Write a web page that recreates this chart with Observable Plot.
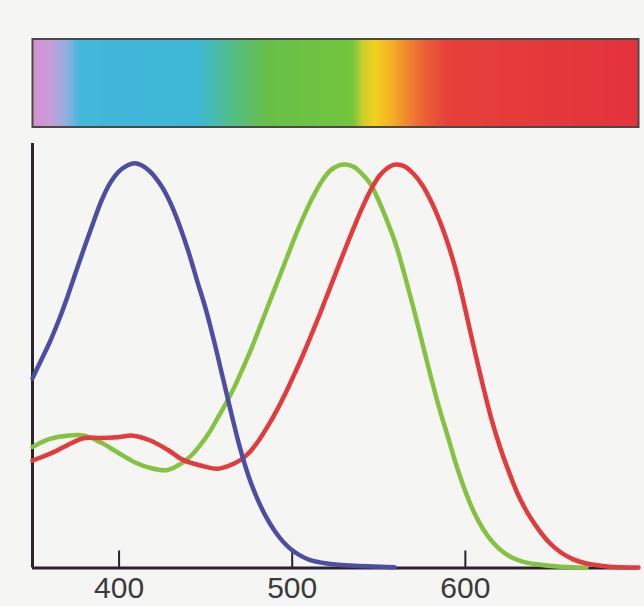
<!DOCTYPE html>
<html>
<head>
<meta charset="utf-8">
<script src="https://cdn.jsdelivr.net/npm/d3@7"></script>
<script src="https://cdn.jsdelivr.net/npm/@observablehq/plot@0.6"></script>
<style>
html, body { margin: 0; padding: 0; background: #f5f5f3; }
#chart { width: 644px; height: 606px; overflow: hidden; background: #f5f5f3; }
#chart svg { display: block; }
</style>
</head>
<body>
<div id="chart"></div>
<script>
// x axis
const xDomain = [350, 700];
const xTicks = [400, 500, 600];

// visible spectrum strip: wavelength stops and colours
const specNm = [350, 360, 370, 378, 445, 465, 485, 535, 541, 548, 557, 566, 575, 590, 700];
const specColor = ["#d48fd0", "#c99bd9", "#8fb0df", "#42b8db", "#3fb8d6", "#52bf8a", "#67c04a",
                   "#74c43c", "#c8cf2a", "#f3d01f", "#f4b324", "#ef8a2c", "#ec6535", "#e6403a", "#e3333d"];

// S cone (blue)
const sNm  = [350, 355, 360, 365, 370, 375, 380, 385, 390, 395, 400, 405, 409, 413, 418, 422, 426, 431, 436, 440, 445, 450, 455, 460, 465, 470, 475, 480, 485, 490, 495, 500, 505, 510, 520, 534, 559];
const sVal = [0.47, 0.515, 0.56, 0.612, 0.67, 0.733, 0.795, 0.855, 0.912, 0.955, 0.983, 0.998, 1.003, 0.998, 0.982, 0.962, 0.936, 0.892, 0.836, 0.785, 0.713, 0.643, 0.56, 0.47, 0.38, 0.295, 0.225, 0.17, 0.126, 0.091, 0.064, 0.044, 0.03, 0.02, 0.011, 0.006, 0.002];

// M cone (green)
const mNm  = [350, 360, 370, 380, 389, 399, 409, 418, 428, 437, 442, 447, 452, 457, 462, 467, 472, 477, 482, 487, 492, 497, 502, 507, 512, 517, 522, 527, 531, 536, 540, 545, 550, 555, 560, 565, 570, 575, 580, 585, 590, 595, 600, 605, 610, 615, 620, 626, 633, 640, 655, 670];
const mVal = [0.30, 0.32, 0.328, 0.328, 0.312, 0.287, 0.262, 0.248, 0.243, 0.262, 0.28, 0.305, 0.335, 0.372, 0.41, 0.452, 0.50, 0.55, 0.605, 0.66, 0.715, 0.77, 0.825, 0.875, 0.92, 0.958, 0.985, 0.998, 1.0, 0.993, 0.978, 0.953, 0.91, 0.858, 0.8, 0.725, 0.645, 0.56, 0.475, 0.395, 0.324, 0.252, 0.19, 0.138, 0.098, 0.068, 0.046, 0.028, 0.016, 0.01, 0.003, 0.001];

// L cone (red)
const lNm  = [350, 360, 370, 380, 389, 399, 408, 418, 428, 437, 447, 457, 466, 471, 476, 481, 486, 491, 496, 501, 506, 511, 516, 521, 526, 531, 536, 541, 546, 551, 556, 560, 565, 570, 575, 580, 585, 590, 595, 600, 605, 610, 615, 620, 625, 630, 636, 642, 648, 655, 662, 670, 682, 700];
const lVal = [0.266, 0.283, 0.304, 0.322, 0.322, 0.324, 0.328, 0.316, 0.293, 0.268, 0.254, 0.246, 0.258, 0.27, 0.29, 0.318, 0.352, 0.39, 0.432, 0.478, 0.526, 0.577, 0.63, 0.685, 0.74, 0.795, 0.848, 0.898, 0.942, 0.975, 0.994, 1.0, 0.995, 0.977, 0.95, 0.911, 0.862, 0.803, 0.73, 0.64, 0.545, 0.455, 0.37, 0.30, 0.24, 0.186, 0.136, 0.097, 0.065, 0.039, 0.022, 0.011, 0.004, 0.001];

const rows = (nm, val) => nm.map((x, i) => ({nm: x, v: val[i]}));
const sRows = rows(sNm, sVal);
const mRows = rows(mNm, mVal);
const lRows = rows(lNm, lVal);

const ink = "#2a2230";
const W = 644, topH = 140, mainH = 466;

// spectrum strip (raster of thin cells coloured by the colour scale)
const bins = d3.range(xDomain[0], xDomain[1], 0.5);
const spectrum = Plot.plot({
  width: W, height: topH,
  marginLeft: 32, marginRight: 6, marginTop: 38.5, marginBottom: 13.5,
  x: {domain: xDomain, axis: null},
  color: {type: "linear", domain: specNm, range: specColor},
  style: {background: "transparent"},
  marks: [
    Plot.rect(bins, {x1: d => d, x2: d => d + 0.5, fill: d => d + 0.25, shapeRendering: "crispEdges"}),
    Plot.frame({stroke: "#4d4848", strokeWidth: 2})
  ]
});

const lineOpts = {x: "nm", y: "v", strokeWidth: 4.5, curve: "catmull-rom", strokeLinejoin: "round", strokeLinecap: "round"};
const main = Plot.plot({
  width: W, height: mainH,
  marginLeft: 32, marginRight: 6, marginTop: 3, marginBottom: 38.5,
  x: {domain: xDomain, label: null},
  y: {domain: [0, 1.052], axis: null},
  style: {background: "transparent", fontFamily: "'Liberation Sans', Arial, sans-serif"},
  marks: [
    Plot.ruleX([xDomain[0]], {stroke: ink, strokeWidth: 3}),
    Plot.ruleY([0], {stroke: ink, strokeWidth: 3}),
    Plot.ruleX(xTicks, {x: d => d, stroke: ink, strokeWidth: 2, insetTop: (mainH - 3 - 38.5) - 17}),
    Plot.axisX({ticks: xTicks, tickSize: 0, tickPadding: 9, fontSize: 30, color: "#3a3a3a", label: null, tickFormat: d => String(d)}),
    Plot.line(mRows, {...lineOpts, stroke: "#84c341"}),
    Plot.line(lRows, {...lineOpts, stroke: "#e33a3d"}),
    Plot.line(sRows, {...lineOpts, stroke: "#4d4ea2"})
  ]
});

const root = document.getElementById("chart");
root.appendChild(spectrum);
root.appendChild(main);
</script>
</body>
</html>
